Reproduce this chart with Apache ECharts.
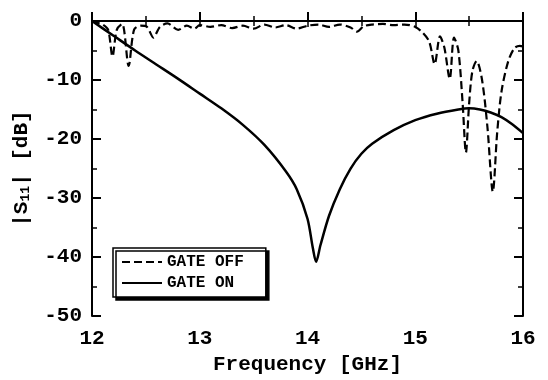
<!DOCTYPE html>
<html>
<head>
<meta charset="utf-8">
<script src="https://cdn.jsdelivr.net/npm/echarts@6/dist/echarts.min.js"></script>
<style>
  html, body { margin: 0; padding: 0; background: #fff; }
  #chart { width: 548px; height: 380px; }
</style>
</head>
<body>
<div id="chart"></div>
<script>
// frequency [GHz] / |S11| [dB]
const gateOffFreq = [12.0, 12.05, 12.1, 12.15, 12.19, 12.23, 12.28, 12.34, 12.39, 12.45, 12.51, 12.57, 12.63, 12.7, 12.8, 12.88, 12.95, 13.0, 13.1, 13.2, 13.3, 13.4, 13.5, 13.6, 13.7, 13.8, 13.9, 14.0, 14.1, 14.2, 14.3, 14.4, 14.46, 14.52, 14.6, 14.7, 14.8, 14.9, 15.0, 15.07, 15.13, 15.18, 15.23, 15.27, 15.32, 15.36, 15.4, 15.44, 15.47, 15.5, 15.53, 15.57, 15.62, 15.67, 15.72, 15.76, 15.8, 15.86, 15.92, 15.97, 16.0]
const gateOffDb = [0, -0.3, -0.6, -1.5, -6, -1.5, -0.5, -7.6, -1.5, -0.8, -1.0, -2.8, -1.0, -0.4, -1.5, -0.8, -1.3, -0.7, -1.0, -0.7, -1.2, -0.8, -1.3, -0.6, -1.1, -0.7, -1.3, -0.8, -0.6, -1.0, -0.6, -1.1, -1.8, -0.9, -0.6, -0.5, -0.7, -0.6, -1.0, -2.0, -3.5, -7.3, -2.6, -4.5, -9.8, -2.8, -5, -14, -22.3, -14, -8.5, -6.8, -10, -18, -28.9, -19, -12, -7, -4.6, -4.2, -4.3]

const gateOnFreq = [12.0, 12.2, 12.4, 12.6, 12.8, 13.0, 13.2, 13.4, 13.6, 13.8, 13.9, 14.0, 14.05, 14.08, 14.12, 14.2, 14.3, 14.4, 14.5, 14.6, 14.8, 15.0, 15.2, 15.4, 15.5, 15.6, 15.7, 15.8, 15.9, 16.0]
const gateOnDb = [0, -2.5, -5, -7.4, -9.8, -12.3, -14.8, -17.6, -21, -25.5, -28.5, -33.5, -38.5, -40.8, -38, -33, -28.5, -25, -22.5, -20.8, -18.5, -16.8, -15.7, -15, -14.8, -15, -15.5, -16.3, -17.5, -19]

const xTicks = [12, 13, 14, 15, 16]
const yTicks = [0, -10, -20, -30, -40, -50]

const font = 'Liberation Mono'
const chart = echarts.init(document.getElementById('chart'))

const zip = (xs, ys) => xs.map((x, i) => [x, ys[i]])

const axisBase = {
  type: 'value',
  axisLine: { show: true, lineStyle: { color: '#000', width: 2 } },
  axisTick: { show: true, inside: true, length: 9, lineStyle: { color: '#000', width: 2 } },
  minorTick: { show: true, splitNumber: 2, length: 5, lineStyle: { color: '#000', width: 1.5 } },
  splitLine: { show: false },
  minorSplitLine: { show: false }
}

const option = {
  animation: false,
  grid: { left: 92, right: 25, top: 21, bottom: 58 },
  legend: {
    orient: 'vertical',
    left: 113,
    top: 248,
    itemWidth: 40,
    itemHeight: 12,
    itemGap: 5,
    padding: [6, 22, 6, 8],
    backgroundColor: '#fff',
    borderColor: '#000',
    borderWidth: 1.5,
    borderRadius: 0,
    shadowColor: '#000',
    shadowBlur: 0,
    shadowOffsetX: 3,
    shadowOffsetY: 3,
    itemStyle: { opacity: 0 },
    textStyle: { fontFamily: font, fontWeight: 'bold', fontSize: 16, color: '#000' },
    data: ['GATE OFF', 'GATE ON']
  },
  xAxis: [
    Object.assign({}, axisBase, {
      min: 12, max: 16, interval: 1,
      axisLabel: {
        margin: 12, color: '#000', fontFamily: font, fontWeight: 'bold', fontSize: 21,
        formatter: v => (xTicks.includes(v) ? String(v) : '')
      },
      name: 'Frequency [GHz]',
      nameLocation: 'middle',
      nameGap: 35,
      nameTextStyle: { color: '#000', fontFamily: font, fontWeight: 'bold', fontSize: 21 }
    }),
    Object.assign({}, axisBase, {
      position: 'top', min: 12, max: 16, interval: 1,
      axisTick: { show: true, inside: true, length: 6, lineStyle: { color: '#000', width: 1.5 } },
      minorTick: { show: true, splitNumber: 2, length: 5, lineStyle: { color: '#000', width: 1.5 } },
      axisLabel: { show: false }
    })
  ],
  yAxis: [
    Object.assign({}, axisBase, {
      min: -50, max: 0, interval: 10,
      axisLabel: {
        margin: 10, color: '#000', fontFamily: font, fontWeight: 'bold', fontSize: 21,
        formatter: v => (yTicks.includes(v) ? String(v) : '')
      },
      name: '|S{sub|11}| [dB]',
      nameLocation: 'middle',
      nameGap: 60,
      nameRotate: 90,
      nameTextStyle: {
        color: '#000', fontFamily: font, fontWeight: 'bold', fontSize: 21,
        rich: {
          sub: { fontFamily: font, fontWeight: 'bold', fontSize: 13, color: '#000', padding: [8, 0, 0, 0] }
        }
      }
    }),
    Object.assign({}, axisBase, {
      position: 'right', min: -50, max: 0, interval: 10,
      axisLabel: { show: false }
    })
  ],
  series: [
    {
      name: 'GATE OFF',
      type: 'line',
      symbol: 'none',
      smooth: 0.3,
      data: zip(gateOffFreq, gateOffDb),
      lineStyle: { color: '#000', width: 2.2, type: [8, 4] },
      itemStyle: { color: '#000' }
    },
    {
      name: 'GATE ON',
      type: 'line',
      symbol: 'none',
      smooth: 0.3,
      data: zip(gateOnFreq, gateOnDb),
      lineStyle: { color: '#000', width: 2.5 },
      itemStyle: { color: '#000' }
    }
  ]
}

chart.setOption(option)
</script>
</body>
</html>
